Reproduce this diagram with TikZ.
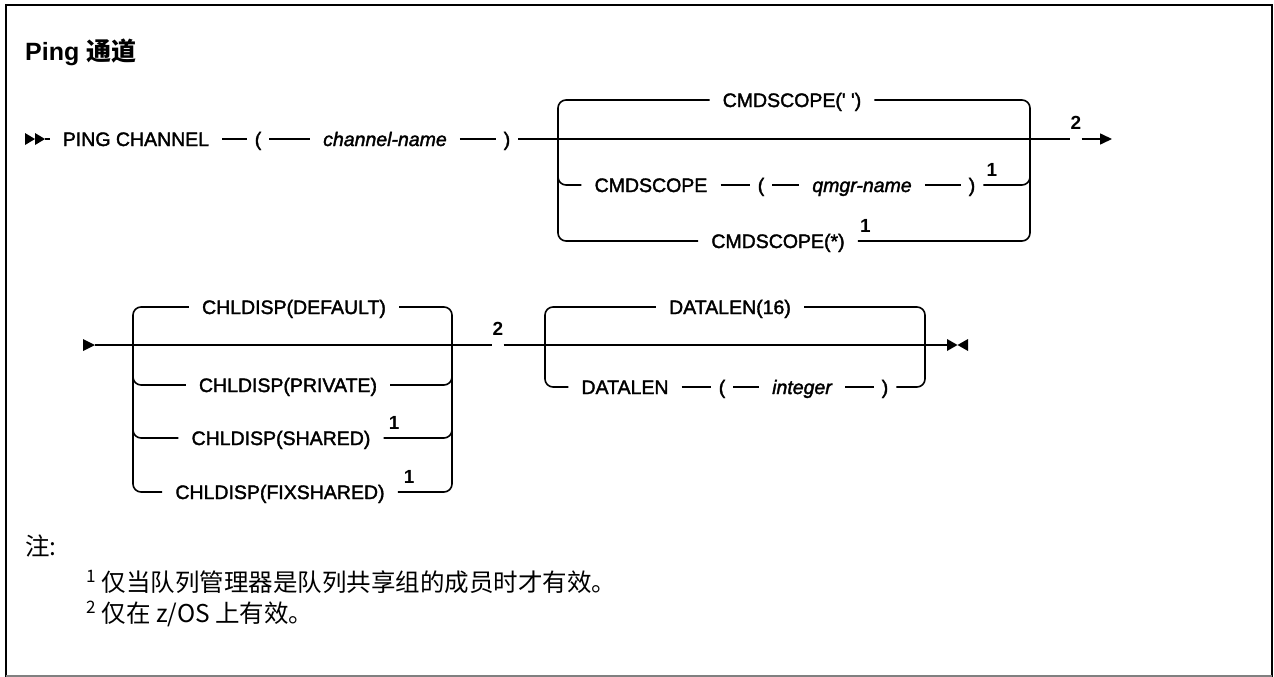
\documentclass[tikz,border=0pt]{standalone}
\usepackage{fontspec}
\setmainfont{Liberation Sans}
\newfontfamily\railfont{Liberation Sans}[FakeBold=1.8]
\newfontfamily\cjk{Noto Sans CJK SC}
\usetikzlibrary{arrows.meta,calc,positioning}

\tikzset{
  rail/.style={line width=1.6pt},
  keyw/.style={inner sep=0pt, inner xsep=13pt, text height=14pt, text depth=0pt,
    font=\railfont\fontsize{19.5}{23}\selectfont},
  varw/.style={keyw, font=\railfont\fontsize{19.5}{23}\selectfont\itshape},
  parw/.style={keyw, inner xsep=8pt},
  gapw/.style={inner sep=0pt, minimum width=11pt, minimum height=0pt},
  fnote/.style={inner sep=0pt, font=\fontsize{19}{21}\selectfont\bfseries},
  notew/.style={anchor=west, inner sep=0pt, font=\cjk\fontsize{24.5}{28}\selectfont},
}

\begin{document}
\begin{tikzpicture}[x=1pt, y=-1pt]
  \useasboundingbox (0,0) rectangle (1274,677);
  % frame
  \draw[line width=2pt] (6,677) -- (6,5) -- (1272,5) -- (1272,677);
  \draw[line width=2pt, gray] (6,676) -- (1272,676);

  \node[anchor=west, inner sep=0pt, font=\fontsize{25}{28}\selectfont\bfseries] (title) at (25,52) {Ping {\cjk 通道}};

  % first row
  \fill (25,133) -- (35,139) -- (25,145) -- cycle;
  \fill (35,133) -- (45,139) -- (35,145) -- cycle;
  \coordinate (s1) at (45,139);
  \node[keyw] (ping) at (136,139) {PING CHANNEL};
  \node[parw] (lp1) at (258,139) {(};
  \node[varw] (chn) at (385,139) {channel-name};
  \node[parw] (rp1) at (507,139) {)};
  \coordinate (j1l) at (550,139);
  \coordinate (j1r) at (1038,139);
  \node[gapw] (g1) at (1076,139) {};
  \coordinate (e1) at (1112,139);

  \node[keyw] (scq) at (792,100) {CMDSCOPE(\textquotesingle{} \textquotesingle)};
  \node[keyw] (scm) at (651,185) {CMDSCOPE};
  \node[parw] (lp2) at (761,185) {(};
  \node[varw] (qmn) at (862,185) {qmgr-name};
  \node[parw] (rp2) at (972,185) {)};
  \node[keyw] (scs) at (778,241) {CMDSCOPE(*)};

  \node[fnote, above=9pt of g1] (f2a) {2};
  \node[fnote, above right=8pt and 3pt of rp2.east] (f1a) {1};
  \node[fnote, above right=8pt and 2pt of scs.east] (f1b) {1};

  \draw[rail] (s1) -- (ping) -- (lp1) -- (chn) -- (rp1) -- (j1l) -- (j1r) -- (g1);
  \draw[rail, -{Triangle[length=12pt, width=11pt]}] (g1) -- (e1);
  \draw[rail] (scm) -- (lp2) -- (qmn) -- (rp2);

  % second row
  \fill (83,339) -- (95,345) -- (83,351) -- cycle;
  \coordinate (s2) at (95,345);
  \coordinate (j2l) at (125,345);
  \coordinate (j2r) at (460,345);
  \node[gapw] (g2) at (498,345) {};
  \coordinate (j3l) at (537,345);
  \coordinate (j3r) at (933,345);
  \coordinate (e2) at (947,345);
  \fill (947,339) -- (957.5,345) -- (947,351) -- cycle;
  \fill (968,339) -- (957.5,345) -- (968,351) -- cycle;

  \node[keyw] (cdd) at (294,307) {CHLDISP(DEFAULT)};
  \node[keyw] (cdp) at (288,385) {CHLDISP(PRIVATE)};
  \node[keyw] (cds) at (281,438) {CHLDISP(SHARED)};
  \node[keyw] (cdf) at (280,492) {CHLDISP(FIXSHARED)};
  \node[keyw] (dl16) at (730,307) {DATALEN(16)};
  \node[keyw] (dln) at (625,387) {DATALEN};
  \node[parw] (lp3) at (722,387) {(};
  \node[varw] (intg) at (802,387) {integer};
  \node[parw] (rp3) at (885,387) {)};

  \node[fnote, above=9pt of g2] (f2b) {2};
  \node[fnote, above right=8pt and 5pt of cds.east] (f1c) {1};
  \node[fnote, above right=8pt and 6pt of cdf.east] (f1d) {1};

  \draw[rail] (s2) -- (j2l) -- (j2r) -- (g2) -- (j3l) -- (j3r) -- (e2);
  \draw[rail] (dln) -- (lp3) -- (intg) -- (rp3);

  % branches
  \foreach \j/\b/\s in {j1l/scq/-1, j1l/scm/1, j1l/scs/1,
                        j2l/cdd/-1, j2l/cdp/1, j2l/cds/1, j2l/cdf/1,
                        j3l/dl16/-1, j3l/dln/1}
    \draw[rail, rounded corners=8pt] (\j) .. controls ($(\j)+(8,0)$) .. ($(\j)+(8,8*\s)$) |- (\b.west);
  \foreach \b/\j/\s in {scq/j1r/-1, rp2/j1r/1, scs/j1r/1,
                        cdd/j2r/-1, cdp/j2r/1, cds/j2r/1, cdf/j2r/1,
                        dl16/j3r/-1, rp3/j3r/1}
    \draw[rail, rounded corners=8pt] (\b.east) -| ($(\j)+(-8,8*\s)$) .. controls ($(\j)+(-8,0)$) .. (\j);

  % notes
  \node[notew] (nhd) at (25,546) {注:};
  \node[notew] (nt1) at (86,582) {\textsuperscript{1} 仅当队列管理器是队列共享组的成员时才有效。};
  \node[notew] (nt2) at (86,614) {\textsuperscript{2} 仅在 z/OS 上有效。};
\end{tikzpicture}
\end{document}
